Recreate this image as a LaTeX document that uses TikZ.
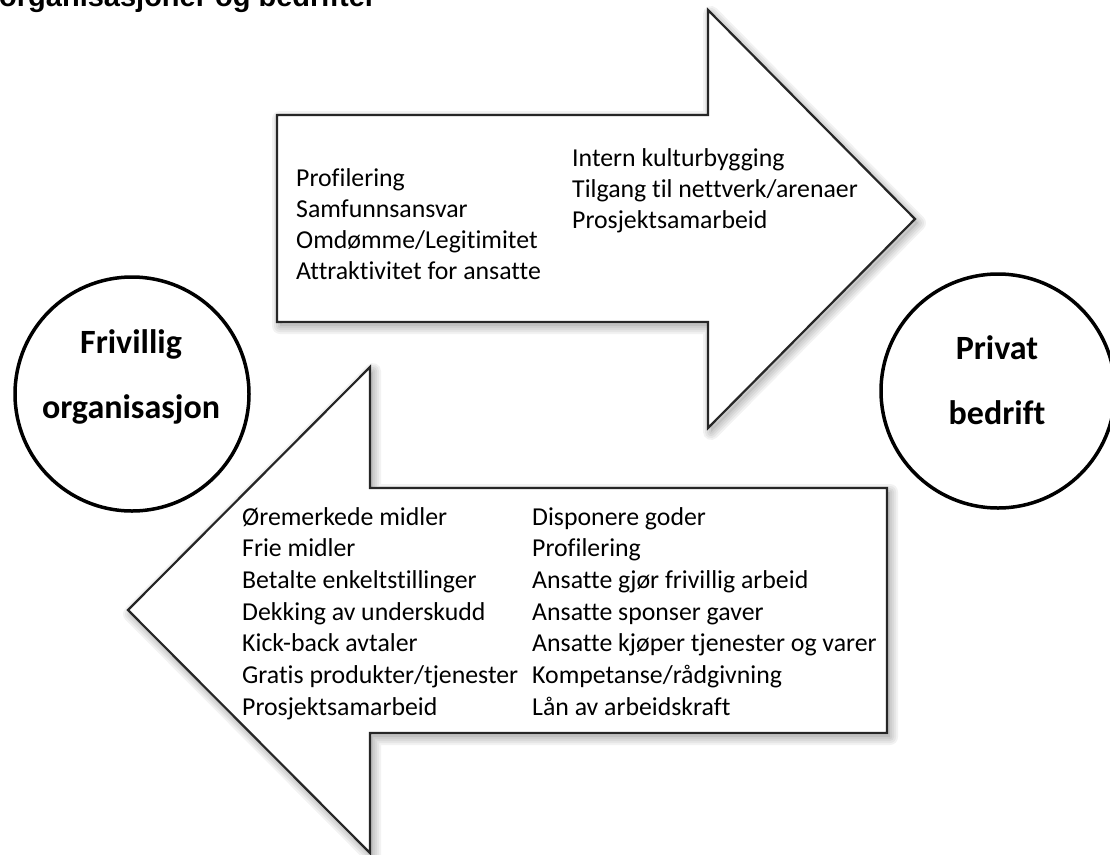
\documentclass[tikz,border=0pt]{standalone}
\usepackage{fontspec}
\setmainfont{Carlito}[Ligatures=NoCommon]
\newfontfamily\arialfont{Liberation Sans}
\begin{document}
\begin{tikzpicture}[x=1pt,y=-1pt,
  arrowshape/.style={fill=white, draw=black!85, line width=2.2pt, line join=miter},
  shadowfill/.style={fill=black, opacity=0.07},
  shadowline/.style={draw=black, opacity=0.05, line join=round},
  party/.style={circle, draw=black, line width=3.5pt, minimum size=234pt, inner sep=0pt},
  itemtext/.style={anchor=base west, inner sep=0pt, font=\fontsize{25.8}{31}\selectfont},
  labeltext/.style={anchor=base, inner sep=0pt, font=\fontsize{34}{40}\selectfont\bfseries},
  titletext/.style={anchor=base west, inner sep=0pt, font=\arialfont\bfseries\fontsize{29}{32}\selectfont}
]
\useasboundingbox (0,0) rectangle (1110,854);
\clip (0,0) rectangle (1110,854);
\def\toppath{(277,115) -- (708,115) -- (708,10) -- (915,219) -- (708,428) -- (708,322) -- (277,322) -- cycle}
\def\botpath{(887,488) -- (370,488) -- (370,367) -- (128,610) -- (370,853) -- (370,733) -- (887,733) -- cycle}

% title (cut off at the top, as in the reference)
\node[titletext] (title) at (-1,6) {organisasjoner og bedrifter};

% shadows
\begin{scope}[shift={(3,4)}]
  \foreach \w in {16,12,8,4} {
    \draw[shadowline, line width=\w pt] \toppath;
    \draw[shadowline, line width=\w pt] \botpath;
  }
  \fill[shadowfill] \toppath;
  \fill[shadowfill] \botpath;
\end{scope}

% arrows
\draw[arrowshape] \toppath;
\draw[arrowshape] \botpath;

% parties
\node[party] (frivillig) at (132,394) {};
\node[party] (privat) at (998,391) {};
\node[labeltext] (fl1) at (131,353) {Frivillig};
\node[labeltext] (fl2) at (131,418) {organisasjon};
\node[labeltext] (pl1) at (997,359) {Privat};
\node[labeltext] (pl2) at (997,424) {bedrift};

% top arrow texts
\foreach [count=\i] \t in {Profilering, Samfunnsansvar, Omdømme/Legitimitet, Attraktivitet for ansatte}
  \node[itemtext] (tl\i) at (296,{186+31.3*(\i-1)}) {\t};
\foreach [count=\i] \t in {Intern kulturbygging, Tilgang til nettverk/arenaer, Prosjektsamarbeid}
  \node[itemtext] (tr\i) at (572,{166+31.3*(\i-1)}) {\t};

% bottom arrow texts
\foreach [count=\i] \t in {Øremerkede midler, Frie midler, Betalte enkeltstillinger, Dekking av underskudd, Kick-back avtaler, Gratis produkter/tjenester, Prosjektsamarbeid}
  \node[itemtext] (bl\i) at (242,{525+31.7*(\i-1)}) {\t};
\foreach [count=\i] \t in {Disponere goder, Profilering, Ansatte gjør frivillig arbeid, Ansatte sponser gaver, Ansatte kjøper tjenester og varer, Kompetanse/rådgivning, Lån av arbeidskraft}
  \node[itemtext] (br\i) at (532,{525+31.7*(\i-1)}) {\t};
\end{tikzpicture}
\end{document}
